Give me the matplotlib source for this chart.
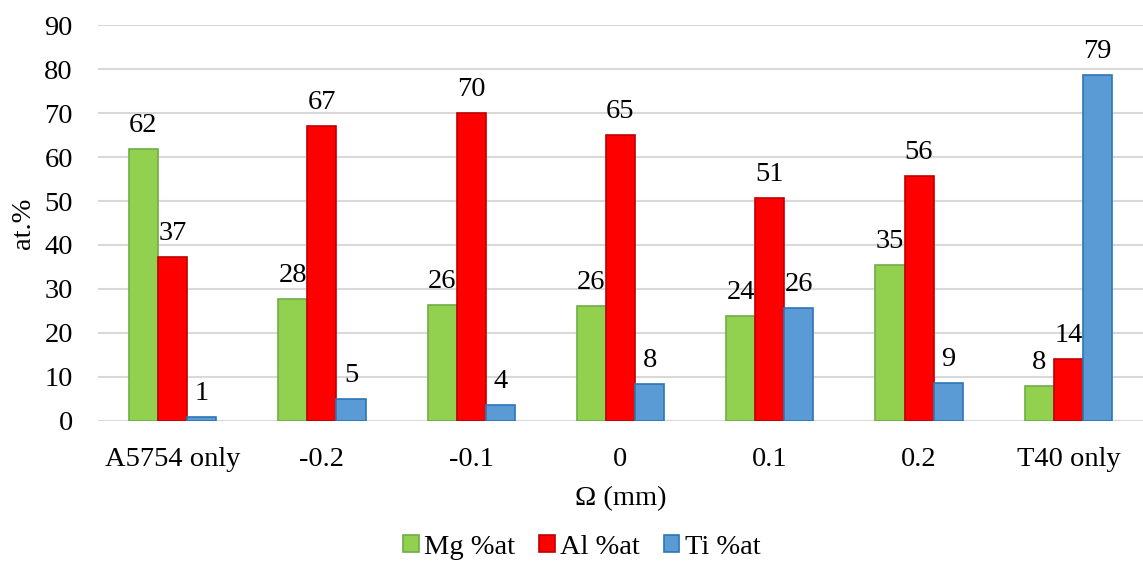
import numpy as np
import matplotlib.pyplot as plt

categories = ['A5754 only', '-0.2', '-0.1', '0', '0.1', '0.2', 'T40 only']
mg_values = [61.9, 27.7, 26.4, 26.1, 23.9, 35.4, 8.0]
al_values = [37.3, 67.0, 70.0, 65.0, 50.7, 55.7, 14.1]
ti_values = [0.9, 5.0, 3.6, 8.4, 25.7, 8.6, 78.6]

series = [
    ('Mg %at', mg_values, '#92D050', '#70AD47'),
    ('Al %at', al_values, '#FF0000', '#C00000'),
    ('Ti %at', ti_values, '#5B9BD5', '#2E75B6'),
]

plt.rcParams['font.family'] = ['Liberation Serif', 'DejaVu Serif']
fs = 20.5

fig = plt.figure(figsize=(11.43, 5.61), dpi=100)
ax = fig.add_axes([0.0857, 0.2496, 0.9143, 0.7058])

x = np.arange(len(categories))
width = 0.195
for i, (name, vals, face, edge) in enumerate(series):
    bars = ax.bar(x + (i - 1) * width, vals, width, color=face, edgecolor=edge,
                  linewidth=1.2, label=name, zorder=3)
    ax.bar_label(bars, fmt='%.0f', padding=8, fontsize=fs)

ax.set_ylim(0, 90)
ax.set_xlim(-0.5, len(categories) - 0.5)
ax.set_yticks(range(0, 91, 10))
ax.set_xticks(x)
ax.set_xticklabels(categories)
ax.tick_params(axis='both', length=0, labelsize=fs)
ax.tick_params(axis='x', pad=19)
ax.tick_params(axis='y', pad=18)
ax.grid(axis='y', color='#d9d9d9', linewidth=1.5, zorder=0)
for s in ax.spines.values():
    s.set_visible(False)

ax.set_xlabel('Ω (mm)', fontsize=fs, labelpad=10)
ax.set_ylabel('at.%', fontsize=fs, labelpad=6)

fig.legend(loc='center', bbox_to_anchor=(582 / 1143, 1 - 547 / 561),
           ncol=3, frameon=False, fontsize=fs, handlelength=0.53, handleheight=0.53,
           handletextpad=0.2, columnspacing=0.85, borderpad=0)

fig.savefig('out.png', dpi=100)
